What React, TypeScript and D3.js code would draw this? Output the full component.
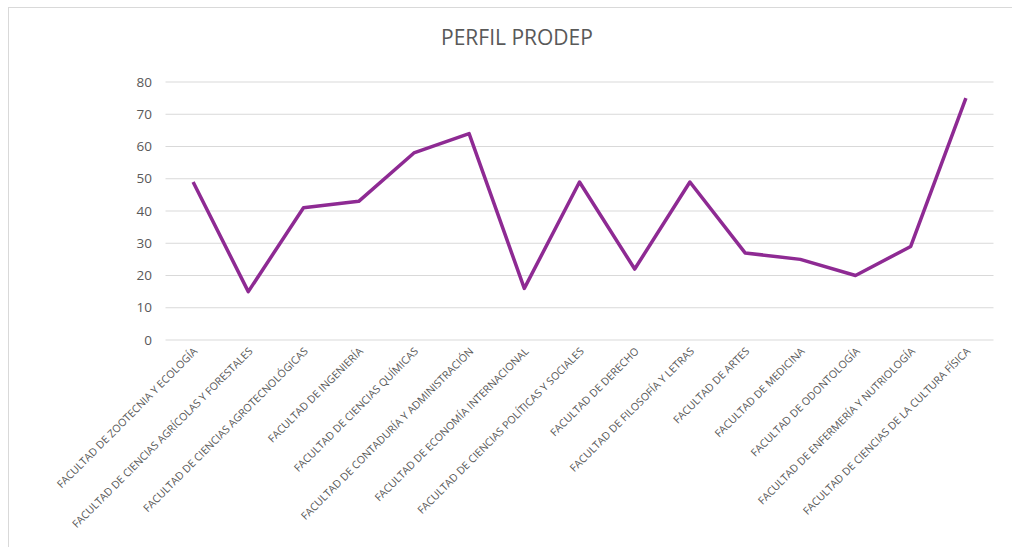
import React from "react";
import * as d3 from "d3";

const categories = [
  "FACULTAD DE ZOOTECNIA Y ECOLOGÍA",
  "FACULTAD DE CIENCIAS AGRÍCOLAS Y FORESTALES",
  "FACULTAD DE CIENCIAS AGROTECNOLÓGICAS",
  "FACULTAD DE INGENIERÍA",
  "FACULTAD DE CIENCIAS QUÍMICAS",
  "FACULTAD DE CONTADURÍA Y ADMINISTRACIÓN",
  "FACULTAD DE ECONOMÍA INTERNACIONAL",
  "FACULTAD DE CIENCIAS POLÍTICAS Y SOCIALES",
  "FACULTAD DE DERECHO",
  "FACULTAD DE FILOSOFÍA Y LETRAS",
  "FACULTAD DE ARTES",
  "FACULTAD DE MEDICINA",
  "FACULTAD DE ODONTOLOGÍA",
  "FACULTAD DE ENFERMERÍA Y NUTRIOLOGÍA",
  "FACULTAD DE CIENCIAS DE LA CULTURA FÍSICA",
];
const values = [49, 15, 41, 43, 58, 64, 16, 49, 22, 49, 27, 25, 20, 29, 75];
const yTicks = [0, 10, 20, 30, 40, 50, 60, 70, 80];
const title = "PERFIL PRODEP";

export default function App() {
  const W = 1012, H = 547;
  const left = 165.5, right = 993.5, top = 82, bottom = 340;
  const x = d3.scaleBand<string>().domain(categories).range([left, right]);
  const y = d3.scaleLinear().domain([0, 80]).range([bottom, top]);
  const cx = (c: string) => (x(c) as number) + x.bandwidth() / 2;
  const line = d3
    .line<number>()
    .x((_, i) => cx(categories[i]))
    .y((d) => y(d));
  const font = "'Open Sans', sans-serif";
  return (
    <svg
      width={W}
      height={H}
      style={{ position: "absolute", left: 0, top: 0 }}
    >
      <rect x={0} y={0} width={W} height={H} fill="#fff" />
      <rect x={8.5} y={7.5} width={W + 20} height={H + 20} fill="#fff" stroke="#d9d9d9" strokeWidth={1} />
      <text x={517} y={45} textAnchor="middle" fontFamily={font} fontSize={21} fill="#595959">
        {title}
      </text>
      {yTicks.map((t) => (
        <g key={t}>
          <line x1={left} x2={right} y1={y(t)} y2={y(t)} stroke="#d9d9d9" strokeWidth={1} />
          <text x={152} y={y(t)} dy="0.35em" textAnchor="end" fontFamily={font} fontSize={13.5} fill="#595959">
            {t}
          </text>
        </g>
      ))}
      {categories.map((c) => (
        <text
          key={c}
          transform={`translate(${cx(c) + 5},${352}) rotate(-45)`}
          textAnchor="end"
          fontFamily={font}
          fontSize={10.6}
          fill="#595959"
        >
          {c}
        </text>
      ))}
      <path d={line(values) || ""} fill="none" stroke="#8E2A93" strokeWidth={3.5} strokeLinejoin="round" />
    </svg>
  );
}
